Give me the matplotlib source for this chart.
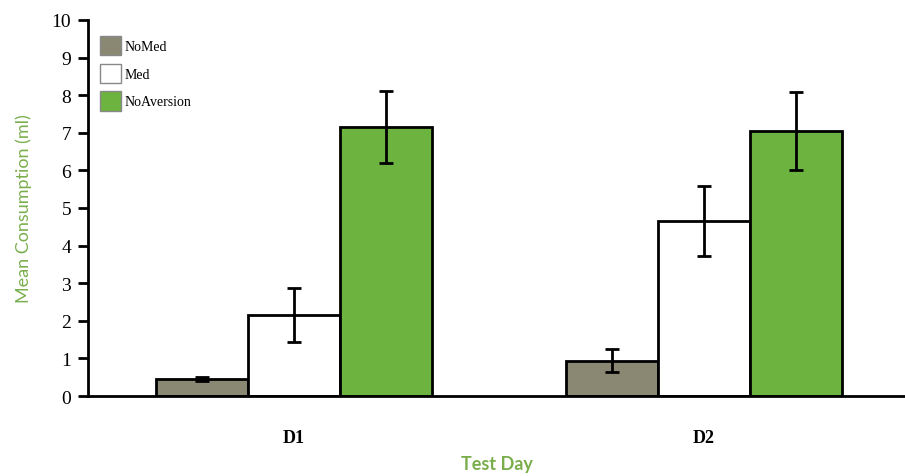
import matplotlib
matplotlib.use("Agg")
import matplotlib.pyplot as plt
import numpy as np
from matplotlib.patches import Patch

days = ["D1", "D2"]
series = ["NoMed", "Med", "NoAversion"]
nomed = [0.45, 0.94]
nomed_err = [0.05, 0.3]
med = [2.15, 4.66]
med_err = [0.72, 0.93]
noaversion = [7.15, 7.04]
noaversion_err = [0.95, 1.04]
yticks = list(range(0, 11))

colors = ["#8a8873", "#ffffff", "#6cb33f"]
label_green = "#7aae4c"

fig = plt.figure(figsize=(9.05, 4.77), dpi=100)
ax = fig.add_axes([0.0972, 0.1677, 0.9028, 0.7883])

x = np.arange(len(days))
w = 0.224
vals = [nomed, med, noaversion]
errs = [nomed_err, med_err, noaversion_err]
for i, (v, e, c) in enumerate(zip(vals, errs, colors)):
    ax.bar(x + (i - 1) * w, v, width=w, color=c, edgecolor="black", linewidth=2, zorder=2)
    ax.errorbar(x + (i - 1) * w, v, yerr=e, fmt="none", ecolor="black",
                elinewidth=2, capsize=5, capthick=2, zorder=3)

ax.set_xlim(-0.502, 1.49)
ax.set_ylim(0, 10)
ax.set_yticks(yticks)
ax.set_yticklabels([str(t) for t in yticks], fontfamily="Liberation Serif", fontsize=14)
ax.set_xticks(x)
ax.set_xticklabels(days, fontfamily="Liberation Serif", fontsize=13, fontweight="bold")
ax.tick_params(axis="x", length=0, pad=24)
ax.tick_params(axis="y", length=7, width=2, direction="out", pad=5)
for s in ["top", "right"]:
    ax.spines[s].set_visible(False)
ax.spines["left"].set_linewidth(2)
ax.spines["bottom"].set_linewidth(2)

ax.set_ylabel("Mean Consumption (ml)", color=label_green, fontfamily="Lato",
              fontsize=13, labelpad=14)
ax.set_xlabel("Test Day", color=label_green, fontfamily="Lato", fontsize=13,
              fontweight="bold", labelpad=6)

handles = [Patch(facecolor=c, edgecolor="#888888", linewidth=1) for c in colors]
leg = ax.legend(handles, series, loc="upper left", bbox_to_anchor=(0.0, 0.99),
                frameon=False, prop={"family": "Liberation Serif", "size": 10},
                handlelength=1.45, handleheight=1.75, handletextpad=0.3,
                labelspacing=0.6)

fig.savefig("out.png", dpi=100)
